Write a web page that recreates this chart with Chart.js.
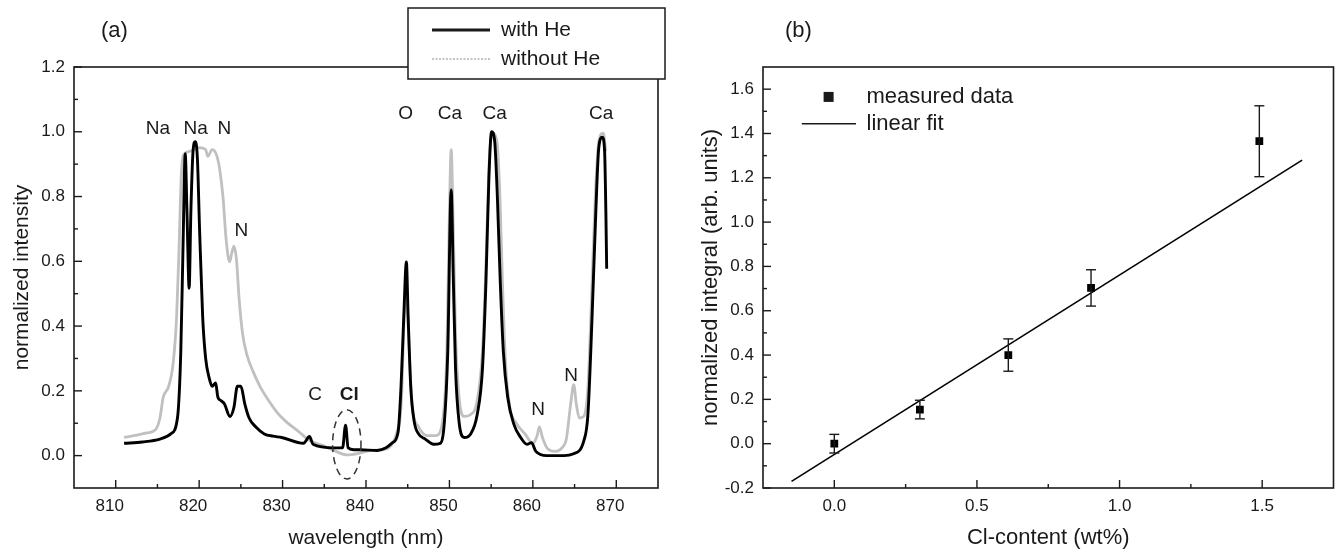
<!DOCTYPE html>
<html>
<head>
<meta charset="utf-8">
<script src="https://cdn.jsdelivr.net/npm/chart.js@4.4.1/dist/chart.umd.min.js"></script>
<style>
  html, body { margin: 0; padding: 0; background: #fff; }
  #wrap { position: relative; width: 1339px; height: 551px; overflow: hidden; }
  #spec { position: absolute; left: 0; top: 0; }
  #calib { position: absolute; left: 680px; top: 0; }
</style>
</head>
<body>
<div id="wrap">
  <canvas id="spec" width="680" height="551"></canvas>
  <canvas id="calib" width="659" height="551"></canvas>
</div>
<script>
// (a) normalized emission spectra, wavelength in nm
var wlHe = [811.0, 813.2, 815.3, 816.6, 817.4, 817.8, 818.07, 818.33, 818.54, 818.8, 819.01, 819.27, 819.53,
  819.79, 820.05, 820.42, 820.78, 821.2, 821.56, 821.98, 822.24, 822.6, 823.02, 823.7, 824.17, 824.58, 825.0,
  825.47, 825.99, 826.77, 827.81, 828.85, 829.9, 832.5, 833.23, 833.65, 836.15, 837.19, 837.55, 837.86, 838.5,
  839.27, 841.35, 842.4, 843.18, 843.85, 844.2, 844.53, 844.84, 845.05, 845.36, 845.78, 846.3, 847.1, 848.1,
  848.9, 849.4, 849.8, 850.21, 850.47, 850.73, 851.15, 851.77, 852.55, 853.33, 853.96, 854.38, 854.74, 855.05,
  855.42, 855.73, 856.09, 856.46, 856.98, 857.76, 858.54, 859.3, 859.84, 860.36, 861.67, 863.75, 864.8, 866.1,
  866.6, 867.1, 867.55, 867.9, 868.33, 868.6, 868.75, 868.85];
var intHe = [0.038, 0.042, 0.051, 0.067, 0.116, 0.32, 0.647, 0.932, 0.755, 0.517, 0.755, 0.94, 0.969,
  0.918, 0.70, 0.43, 0.30, 0.24, 0.214, 0.224, 0.181, 0.17, 0.16, 0.121, 0.149, 0.214, 0.214,
  0.16, 0.116, 0.089, 0.067, 0.06, 0.056, 0.038, 0.059, 0.035, 0.024, 0.024, 0.094, 0.024, 0.018,
  0.018, 0.016, 0.024, 0.04, 0.073, 0.214, 0.43, 0.598, 0.43, 0.214, 0.105, 0.067, 0.051, 0.035,
  0.038, 0.105, 0.32, 0.82, 0.54, 0.27, 0.105, 0.056, 0.067, 0.127, 0.268, 0.539, 0.864, 1.0,
  0.972, 0.81, 0.539, 0.322, 0.181, 0.094, 0.056, 0.035, 0.04, 0.013, 0.0, 0.0, 0.005, 0.045,
  0.127, 0.43, 0.755, 0.95, 0.983, 0.94, 0.755, 0.577];

var wlNoHe = [811.0, 812.2, 813.75, 814.8, 815.3, 815.7, 816.35, 816.9, 817.3, 817.6, 817.86, 818.13, 818.96,
  820.0, 820.78, 821.04, 821.56, 822.08, 822.45, 822.86, 823.23, 823.65, 823.91, 824.17, 824.48, 824.79, 825.21,
  825.73, 826.51, 827.29, 828.33, 829.38, 830.42, 831.98, 833.28, 834.84, 836.41, 837.71, 839.27, 840.57, 841.88,
  842.92, 843.7, 844.22, 844.58, 844.84, 845.1, 845.52, 846.3, 847.34, 848.39, 849.17, 849.69, 850.0, 850.21,
  850.42, 850.73, 851.15, 851.77, 852.55, 853.33, 853.96, 854.38, 854.79, 855.21, 855.68, 856.04, 856.35, 856.72,
  857.24, 858.02, 859.06, 860.0, 860.52, 860.78, 861.15, 861.77, 862.71, 863.49, 864.01, 864.53, 864.9, 865.21,
  865.57, 866.1, 866.61, 867.03, 867.5, 867.92, 868.44, 868.75];
var intNoHe = [0.056, 0.062, 0.07, 0.081, 0.116, 0.181, 0.214, 0.289, 0.43, 0.647, 0.864, 0.929, 0.94,
  0.951, 0.945, 0.924, 0.945, 0.929, 0.886, 0.799, 0.669, 0.598, 0.625, 0.647, 0.604, 0.485, 0.376,
  0.311, 0.257, 0.214, 0.17, 0.132, 0.105, 0.073, 0.046, 0.031, 0.013, 0.002, 0.008, 0.016, 0.018,
  0.029, 0.073, 0.159, 0.43, 0.506, 0.376, 0.159, 0.089, 0.062, 0.062, 0.105, 0.322, 0.755, 0.945,
  0.755, 0.376, 0.181, 0.121, 0.127, 0.17, 0.322, 0.593, 0.918, 0.994, 0.972, 0.81, 0.539, 0.289,
  0.149, 0.1, 0.067, 0.038, 0.062, 0.089, 0.056, 0.021, 0.013, 0.024, 0.051, 0.159, 0.219, 0.159,
  0.116, 0.121, 0.214, 0.485, 0.81, 0.972, 0.996, 0.94];

var specTicksX = [810, 820, 830, 840, 850, 860, 870];
var specTicksY = [0, 0.2, 0.4, 0.6, 0.8, 1.0, 1.2];

// emission line labels: text, wavelength, height
var lineNames = ['Na', 'Na', 'N', 'N', 'C', 'Cl', 'O', 'Ca', 'Ca', 'Ca', 'N', 'N'];
var lineWl = [815.05, 819.58, 823.02, 825.05, 833.9, 838.0, 844.74, 850.05, 855.42, 868.18, 860.63, 864.58];
var lineHeight = [1.01, 1.01, 1.01, 0.693, 0.189, 0.189, 1.057, 1.057, 1.057, 1.057, 0.143, 0.248];

// (b) Cl calibration
var clContent = [0.0, 0.30, 0.61, 0.90, 1.49];
var integral = [0.0, 0.154, 0.40, 0.703, 1.365];
var integralErr = [0.042, 0.042, 0.073, 0.082, 0.16];
var fitX = [-0.15, 1.64];
var fitY = [-0.170, 1.280];
var calibTicksX = [0, 0.5, 1.0, 1.5];
var calibTicksY = [-0.2, 0, 0.2, 0.4, 0.6, 0.8, 1.0, 1.2, 1.4, 1.6];

var FONT = '"Liberation Sans", Arial, sans-serif';
var INK = '#1a1a1a';

function points(xs, ys) {
  return xs.map(function (x, i) { return { x: x, y: ys[i] }; });
}

function line(ctx, x1, y1, x2, y2) {
  ctx.beginPath(); ctx.moveTo(x1, y1); ctx.lineTo(x2, y2); ctx.stroke();
}

// box round the plot with ticks pointing inwards (major + half-step minor)
var framePlugin = {
  id: 'frame',
  afterDatasetsDraw: function (chart, args, o) {
    var ctx = chart.ctx, a = chart.chartArea;
    var sx = chart.scales.x, sy = chart.scales.y;
    ctx.save();
    ctx.strokeStyle = INK;
    ctx.lineWidth = 1.6;
    ctx.strokeRect(a.left, a.top, a.right - a.left, a.bottom - a.top);
    ctx.lineWidth = 1.4;
    var xs = o.xTicks, ys = o.yTicks;
    for (var i = 0; i < xs.length; i++) {
      var px = sx.getPixelForValue(xs[i]);
      line(ctx, px, a.bottom, px, a.bottom - 8);
      var m = xs[i] + o.xStep / 2;
      if (m < sx.max) { var pm = sx.getPixelForValue(m); line(ctx, pm, a.bottom, pm, a.bottom - 4); }
    }
    for (var j = 0; j < ys.length; j++) {
      var py = sy.getPixelForValue(ys[j]);
      line(ctx, a.left, py, a.left + 8, py);
      var n = ys[j] + o.yStep / 2;
      if (n < sy.max) { var pn = sy.getPixelForValue(n); line(ctx, a.left, pn, a.left + 4, pn); }
    }
    ctx.restore();
  }
};

function axisX(min, max, ticks, fmt, title, titleSize, labelOffset) {
  return {
    type: 'linear', min: min, max: max,
    afterBuildTicks: function (s) { s.ticks = ticks.map(function (v) { return { value: v }; }); },
    afterFit: function (s) { s.height = 63; },
    grid: { display: false, drawTicks: false },
    border: { display: false },
    ticks: { autoSkip: false, maxRotation: 0, padding: 8, labelOffset: labelOffset || 0, color: INK,
      font: { family: FONT, size: 17 }, callback: fmt },
    title: { display: true, text: title, color: INK, font: { family: FONT, size: titleSize },
      padding: { top: 0, bottom: 0 } }
  };
}

function axisY(min, max, ticks, title, titleSize, width, titlePad) {
  return {
    type: 'linear', min: min, max: max,
    afterBuildTicks: function (s) { s.ticks = ticks.map(function (v) { return { value: v }; }); },
    afterFit: function (s) { s.width = width; },
    grid: { display: false, drawTicks: false },
    border: { display: false },
    ticks: { autoSkip: false, padding: 9, color: INK, font: { family: FONT, size: 17 },
      callback: function (v) { return v.toFixed(1); } },
    title: { display: true, text: title, color: INK, font: { family: FONT, size: titleSize },
      padding: { top: titlePad, bottom: 0 } }
  };
}

// ---------- (a) spectra ----------
var specDecor = {
  id: 'specDecor',
  afterDraw: function (chart) {
    var ctx = chart.ctx, sx = chart.scales.x, sy = chart.scales.y;
    ctx.save();
    ctx.fillStyle = INK;
    ctx.textAlign = 'center';
    ctx.textBaseline = 'middle';
    for (var i = 0; i < lineNames.length; i++) {
      ctx.font = (lineNames[i] === 'Cl' ? 'bold ' : '') + '19px ' + FONT;
      ctx.fillText(lineNames[i], sx.getPixelForValue(lineWl[i]), sy.getPixelForValue(lineHeight[i]));
    }
    // dashed ring round the Cl line
    var cx = sx.getPixelForValue(837.7), cy = sy.getPixelForValue(0.035);
    var rx = sx.getPixelForValue(839.4) - cx, ry = cy - sy.getPixelForValue(0.142);
    ctx.strokeStyle = '#333';
    ctx.lineWidth = 1.5;
    ctx.setLineDash([7, 5]);
    ctx.beginPath();
    ctx.ellipse(cx, cy, rx, ry, 0, 0, Math.PI * 2);
    ctx.stroke();
    ctx.setLineDash([]);

    ctx.font = '22px ' + FONT;
    ctx.textAlign = 'left';
    ctx.fillText('(a)', 101, 31);

    // legend box
    ctx.fillStyle = '#fff';
    ctx.fillRect(408, 8, 257, 71);
    ctx.strokeStyle = INK;
    ctx.lineWidth = 1.5;
    ctx.strokeRect(408, 8, 257, 71);
    ctx.lineWidth = 2.8;
    line(ctx, 432, 30, 490, 30);
    ctx.strokeStyle = '#c4c4c4';
    ctx.lineWidth = 2.2;
    ctx.setLineDash([2, 1.5]);
    line(ctx, 432, 59, 490, 59);
    ctx.setLineDash([]);
    ctx.fillStyle = INK;
    ctx.font = '21px ' + FONT;
    ctx.fillText('with He', 501, 30);
    ctx.fillText('without He', 501, 59);
    ctx.restore();
  }
};

new Chart(document.getElementById('spec'), {
  type: 'scatter',
  data: {
    datasets: [
      { label: 'with He', data: points(wlHe, intHe), showLine: true, borderColor: '#000',
        borderWidth: 2.9, pointRadius: 0, cubicInterpolationMode: 'monotone' },
      { label: 'without He', data: points(wlNoHe, intNoHe), showLine: true, borderColor: '#c0c0c0',
        borderWidth: 2.8, pointRadius: 0, cubicInterpolationMode: 'monotone' }
    ]
  },
  options: {
    responsive: false,
    animation: false,
    devicePixelRatio: 1,
    layout: { padding: { top: 67, right: 22, bottom: 0, left: 0 } },
    plugins: {
      legend: { display: false },
      tooltip: { enabled: false },
      frame: { xTicks: specTicksX, yTicks: specTicksY, xStep: 10, yStep: 0.2 }
    },
    scales: {
      x: axisX(805, 875, specTicksX, function (v) { return String(v); }, 'wavelength (nm)', 21, -6),
      y: axisY(-0.1, 1.2, specTicksY, 'normalized intensity', 21, 74, 10)
    }
  },
  plugins: [framePlugin, specDecor]
});

// ---------- (b) calibration ----------
var calibDecor = {
  id: 'calibDecor',
  afterDatasetsDraw: function (chart) {
    var ctx = chart.ctx, sx = chart.scales.x, sy = chart.scales.y;
    ctx.save();
    ctx.strokeStyle = INK;
    ctx.lineWidth = 1.4;
    // error bars with caps
    for (var i = 0; i < clContent.length; i++) {
      var px = sx.getPixelForValue(clContent[i]);
      var top = sy.getPixelForValue(integral[i] + integralErr[i]);
      var bot = sy.getPixelForValue(integral[i] - integralErr[i]);
      line(ctx, px, top, px, bot);
      line(ctx, px - 5, top, px + 5, top);
      line(ctx, px - 5, bot, px + 5, bot);
    }
    // legend
    ctx.fillStyle = INK;
    var mx = sx.getPixelForValue(-0.02), my = sy.getPixelForValue(1.565);
    ctx.fillRect(mx - 5, my - 5, 10, 10);
    ctx.lineWidth = 1.6;
    var ly = sy.getPixelForValue(1.444);
    line(ctx, sx.getPixelForValue(-0.114), ly, sx.getPixelForValue(0.076), ly);
    ctx.font = '22px ' + FONT;
    ctx.textAlign = 'left';
    ctx.textBaseline = 'middle';
    var tx = sx.getPixelForValue(0.113);
    ctx.fillText('measured data', tx, my);
    ctx.fillText('linear fit', tx, ly);
    ctx.font = '22px ' + FONT;
    ctx.fillText('(b)', 105, 31);
    ctx.restore();
  }
};

new Chart(document.getElementById('calib'), {
  type: 'scatter',
  data: {
    datasets: [
      { label: 'measured data', data: points(clContent, integral), backgroundColor: '#000',
        borderColor: '#000', pointStyle: 'rect', pointRadius: 5.5, borderWidth: 0 },
      { label: 'linear fit', data: points(fitX, fitY), showLine: true, borderColor: '#000',
        borderWidth: 1.6, pointRadius: 0 }
    ]
  },
  options: {
    responsive: false,
    animation: false,
    devicePixelRatio: 1,
    layout: { padding: { top: 67, right: 4, bottom: 0, left: 0 } },
    plugins: {
      legend: { display: false },
      tooltip: { enabled: false },
      frame: { xTicks: calibTicksX, yTicks: calibTicksY, xStep: 0.5, yStep: 0.2 }
    },
    scales: {
      x: axisX(-0.25, 1.75, calibTicksX, function (v) { return v.toFixed(1); }, 'Cl-content (wt%)', 22, 0),
      y: axisY(-0.2, 1.7, calibTicksY, 'normalized integral (arb. units)', 22, 83, 18)
    }
  },
  plugins: [framePlugin, calibDecor]
});
</script>
</body>
</html>
